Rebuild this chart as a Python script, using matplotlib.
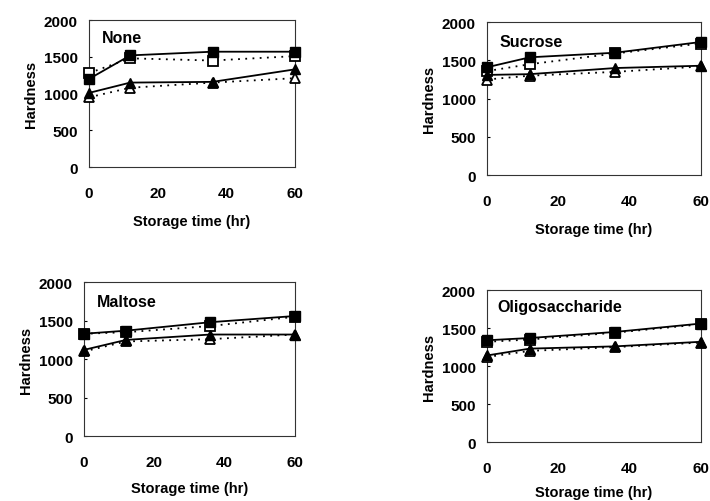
import matplotlib
matplotlib.use("Agg")
import matplotlib.pyplot as plt

plt.rcParams['font.family'] = ['Liberation Sans', 'DejaVu Sans']

times = [0, 12, 36, 60]
panels = ["None", "Sucrose", "Maltose", "Oligosaccharide"]

# filled square (solid), open square (dotted), filled triangle (solid), open triangle (dotted)
sq_filled = {
    "None": [1200, 1520, 1570, 1570],
    "Sucrose": [1410, 1540, 1600, 1740],
    "Maltose": [1330, 1370, 1480, 1560],
    "Oligosaccharide": [1340, 1370, 1450, 1560],
}
sq_open = {
    "None": [1280, 1480, 1450, 1510],
    "Sucrose": [1360, 1450, 1590, 1720],
    "Maltose": [1330, 1350, 1430, 1550],
    "Oligosaccharide": [1320, 1350, 1440, 1550],
}
tri_filled = {
    "None": [1010, 1150, 1160, 1330],
    "Sucrose": [1310, 1320, 1400, 1430],
    "Maltose": [1120, 1250, 1320, 1320],
    "Oligosaccharide": [1140, 1230, 1260, 1320],
}
tri_open = {
    "None": [950, 1080, 1150, 1210],
    "Sucrose": [1250, 1300, 1350, 1420],
    "Maltose": [1100, 1230, 1260, 1320],
    "Oligosaccharide": [1120, 1200, 1250, 1310],
}
yticks = [0, 500, 1000, 1500, 2000]
xticks = [0, 20, 40, 60]

fig = plt.figure(figsize=(7.1, 5.02), dpi=100)
rects = {
    "None": [0.1254, 0.665, 0.290, 0.293],
    "Sucrose": [0.686, 0.649, 0.301, 0.305],
    "Maltose": [0.118, 0.129, 0.297, 0.307],
    "Oligosaccharide": [0.686, 0.1175, 0.301, 0.3025],
}
label_pos = {
    "None": (0.063, 0.88),
    "Sucrose": (0.06, 0.876),
    "Maltose": (0.06, 0.877),
    "Oligosaccharide": (0.047, 0.89),
}
xlabel_pad = {"None": 10, "Sucrose": 10, "Maltose": 9, "Oligosaccharide": 7.5}

for name in panels:
    ax = fig.add_axes(rects[name])
    ax.plot(times, sq_open[name], linestyle=(0, (1, 3)), color='black', lw=1.3,
            marker='s', markersize=7, markerfacecolor='white', markeredgecolor='black',
            markeredgewidth=1.3, clip_on=False, zorder=3)
    ax.plot(times, tri_open[name], linestyle=(0, (1, 3)), color='black', lw=1.3,
            marker='^', markersize=7, markerfacecolor='white', markeredgecolor='black',
            markeredgewidth=1.3, clip_on=False, zorder=3)
    ax.plot(times, sq_filled[name], linestyle='-', color='black', lw=1.3,
            marker='s', markersize=7.5, markerfacecolor='black', markeredgecolor='black',
            clip_on=False, zorder=4)
    ax.plot(times, tri_filled[name], linestyle='-', color='black', lw=1.3,
            marker='^', markersize=7.5, markerfacecolor='black', markeredgecolor='black',
            clip_on=False, zorder=4)
    ax.set_xlim(0, 60)
    ax.set_ylim(0, 2000)
    ax.set_xticks(xticks)
    ax.set_yticks(yticks)
    ax.tick_params(axis='x', length=0, pad=13.5, labelsize=11)
    ax.tick_params(axis='y', length=2, direction='in', pad=8, labelsize=11)
    for lab in ax.get_xticklabels() + ax.get_yticklabels():
        lab.set_fontweight('bold')
    for s in ax.spines.values():
        s.set_linewidth(0.8)
        s.set_color('#333333')
    ax.set_xlabel("Storage time (hr)", fontsize=10.5, fontweight='bold',
                  labelpad=xlabel_pad[name])
    ax.set_ylabel("Hardness", fontsize=10.5, fontweight='bold', labelpad=4)
    ax.text(label_pos[name][0], label_pos[name][1], name, transform=ax.transAxes,
            fontsize=11.5, fontweight='bold', ha='left', va='center')

fig.savefig("out.png", dpi=100)
